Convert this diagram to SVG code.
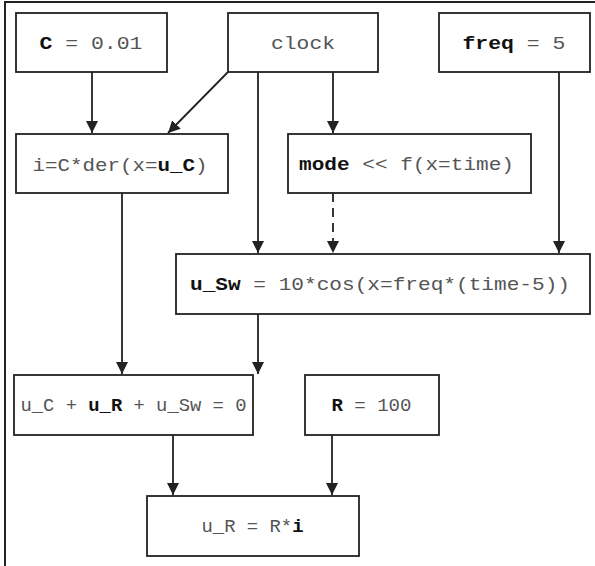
<svg xmlns="http://www.w3.org/2000/svg" width="595" height="566" viewBox="0 0 595 566">
<style>
.box{fill:#fff;stroke:#222;stroke-width:1.8}
.t{font-family:"Liberation Mono","Courier New",monospace;font-size:18.5px;fill:#555}
.b{font-weight:bold;fill:#111}
.c{stroke:#222;stroke-width:1.8;fill:none}
.d{stroke-dasharray:9,6}
</style>
<defs>
<marker id="ah" markerWidth="12" markerHeight="12" viewBox="0 0 12 12" refX="12" refY="6" orient="auto" markerUnits="userSpaceOnUse">
<path d="M0,0 L12,6 L0,12 Z" fill="#222"/>
</marker>
</defs>
<rect width="595" height="566" fill="#fff"/>
<path d="M5,566 V2 H595" fill="none" stroke="#222" stroke-width="2"/>
<g id="connectors">
<line class="c" x1="92" y1="72" x2="92" y2="133" marker-end="url(#ah)"/>
<line class="c" x1="228" y1="72" x2="168" y2="133" marker-end="url(#ah)"/>
<line class="c" x1="258" y1="72" x2="258" y2="253" marker-end="url(#ah)"/>
<line class="c" x1="333" y1="72" x2="333" y2="133" marker-end="url(#ah)"/>
<line class="c d" x1="333" y1="193" x2="333" y2="253" marker-end="url(#ah)"/>
<line class="c" x1="559" y1="72" x2="559" y2="253" marker-end="url(#ah)"/>
<line class="c" x1="122" y1="193" x2="122" y2="374" marker-end="url(#ah)"/>
<line class="c" x1="258" y1="314" x2="258" y2="374" marker-end="url(#ah)"/>
<line class="c" x1="173" y1="435" x2="173" y2="495" marker-end="url(#ah)"/>
<line class="c" x1="332" y1="435" x2="332" y2="495" marker-end="url(#ah)"/>
</g>
<g id="nodeC"><rect class="box" x="16" y="13" width="151" height="59"/><text class="t" x="39.5" y="49" textLength="103" lengthAdjust="spacingAndGlyphs"><tspan class="b">C</tspan> = 0.01</text></g>
<g id="nodeClock"><rect class="box" x="228" y="13" width="150" height="59"/><text class="t" x="271" y="49" textLength="64" lengthAdjust="spacingAndGlyphs">clock</text></g>
<g id="nodeFreq"><rect class="box" x="439" y="13" width="151" height="59"/><text class="t" x="462.5" y="49" textLength="103" lengthAdjust="spacingAndGlyphs"><tspan class="b">freq</tspan> = 5</text></g>
<g id="nodeI"><rect class="box" x="16" y="134" width="212" height="59"/><text class="t" x="32.5" y="171" textLength="175" lengthAdjust="spacingAndGlyphs">i=C*der(x=<tspan class="b">u_C</tspan>)</text></g>
<g id="nodeMode"><rect class="box" x="288" y="134" width="243" height="59"/><text class="t" x="299" y="170" textLength="215" lengthAdjust="spacingAndGlyphs"><tspan class="b">mode</tspan> &lt;&lt; f(x=time)</text></g>
<g id="nodeUSw"><rect class="box" x="176" y="254" width="414" height="60"/><text class="t" x="190" y="290" textLength="380" lengthAdjust="spacingAndGlyphs"><tspan class="b">u_Sw</tspan> = 10*cos(x=freq*(time-5))</text></g>
<g id="nodeSum"><rect class="box" x="14" y="375" width="239" height="60"/><text class="t" x="20.5" y="411" textLength="226" lengthAdjust="spacingAndGlyphs">u_C + <tspan class="b">u_R</tspan> + u_Sw = 0</text></g>
<g id="nodeR"><rect class="box" x="305" y="375" width="134" height="60"/><text class="t" x="331.5" y="411" textLength="80" lengthAdjust="spacingAndGlyphs"><tspan class="b">R</tspan> = 100</text></g>
<g id="nodeUR"><rect class="box" x="147" y="496" width="212" height="60"/><text class="t" x="201.5" y="532" textLength="102" lengthAdjust="spacingAndGlyphs">u_R = R*<tspan class="b">i</tspan></text></g>
</svg>
